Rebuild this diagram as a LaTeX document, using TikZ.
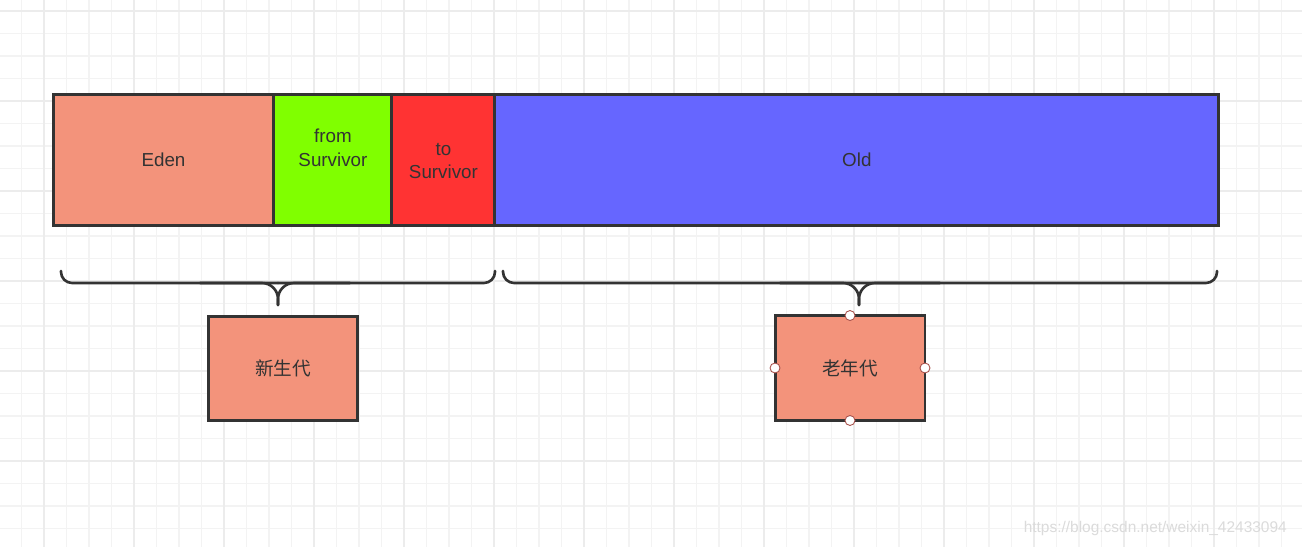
\documentclass[tikz,border=0pt]{standalone}
\usepackage{fontspec}
\setmainfont{Liberation Sans}
\newfontfamily\cjk{Noto Sans CJK SC}
\usetikzlibrary{positioning}
\definecolor{edenSalmon}{HTML}{F3937B}
\definecolor{fromGreen}{HTML}{80FF00}
\definecolor{toRed}{HTML}{FF3333}
\definecolor{oldBlue}{HTML}{6666FF}
\definecolor{strokeGray}{HTML}{333333}
\definecolor{gridMinor}{HTML}{F3F3F3}
\definecolor{gridMajor}{HTML}{ECECEC}
\definecolor{handleRed}{HTML}{A8504A}

\begin{document}
\begin{tikzpicture}[x=0.02cm, y=-0.02cm,
    area/.style={draw=strokeGray, line width=1.7pt, text=strokeGray, align=center,
        inner sep=0pt, outer sep=0pt, minimum height=2.64cm,
        font=\fontsize{10.7}{13.6}\selectfont},
    area text/.style={text=strokeGray, align=center, inner sep=0pt,
        font=\fontsize{10.7}{13.6}\selectfont},
    gen/.style={draw=strokeGray, line width=1.7pt, fill=edenSalmon, text=strokeGray,
        minimum width=3cm, minimum height=2.1cm, inner sep=0pt, outer sep=0pt,
        font=\cjk\fontsize{10.6}{13}\selectfont},
    brace line/.style={draw=strokeGray, line width=1.5pt, line cap=round},
    handle/.style={circle, draw=handleRed, fill=white, line width=0.5pt,
        minimum size=0.2cm, inner sep=0pt}]

    % canvas and grid
    \useasboundingbox (0,0) rectangle (1302,547);
    \fill[white] (0,0) rectangle (1302,547);
    \foreach \i in {0,...,58} {
        \draw[gridMinor, line width=0.6pt] ({-1+22.5*\i},0) -- ({-1+22.5*\i},547);
    }
    \foreach \j in {0,...,23} {
        \draw[gridMinor, line width=0.6pt] (0,{11+22.5*\j}) -- (1302,{11+22.5*\j});
    }
    \foreach \i in {0,...,14} {
        \draw[gridMajor, line width=0.6pt] ({44+90*\i},0) -- ({44+90*\i},547);
    }
    \foreach \j in {0,...,5} {
        \draw[gridMajor, line width=0.6pt] (0,{11+90*\j}) -- (1302,{11+90*\j});
    }

    % heap areas
    \node[area, fill=edenSalmon, minimum width=4.42cm] (eden) at (163.5,160) {Eden};
    \node[area, fill=fromGreen, minimum width=2.36cm, right=0pt of eden,
        label={[area text, yshift=0.24cm]center:from\\Survivor}] (from) {};
    \node[area, fill=toRed, minimum width=2.06cm, right=0pt of from,
        label={[area text, yshift=-0.02cm]center:to\\Survivor}] (to) {};
    \node[area, fill=oldBlue, minimum width=14.48cm, right=0pt of to] (old) {Old};

    % braces
    \coordinate (youngTip) at (278,305);
    \coordinate (oldTip) at (859,305);
    \draw[brace line, rounded corners=0.22cm] (61,271) -- (61,283) -- (youngTip |- 0,283);
    \draw[brace line, rounded corners=0.22cm] (495,271) -- (495,283) -- (youngTip |- 0,283);
    \draw[brace line, rounded corners=0.32cm] (200,283) -- (youngTip |- 0,283) -- (youngTip);
    \draw[brace line, rounded corners=0.32cm] (350,283) -- (youngTip |- 0,283) -- (youngTip);
    \draw[brace line, rounded corners=0.22cm] (503,271) -- (503,283) -- (oldTip |- 0,283);
    \draw[brace line, rounded corners=0.22cm] (1217,271) -- (1217,283) -- (oldTip |- 0,283);
    \draw[brace line, rounded corners=0.32cm] (780,283) -- (oldTip |- 0,283) -- (oldTip);
    \draw[brace line, rounded corners=0.32cm] (940,283) -- (oldTip |- 0,283) -- (oldTip);

    % generations
    \node[gen] (young) at (283,368.5) {新生代};
    \node[gen] (tenured) at (850,368) {老年代};
    \foreach \a in {north, south, east, west} {
        \node[handle] at (tenured.\a) {};
    }

    \node[text=black!14, font=\fontsize{8.8}{10}\selectfont, anchor=east] (mark) at (1293,528)
        {https://blog.csdn.net/weixin\_42433094};
\end{tikzpicture}
\end{document}
